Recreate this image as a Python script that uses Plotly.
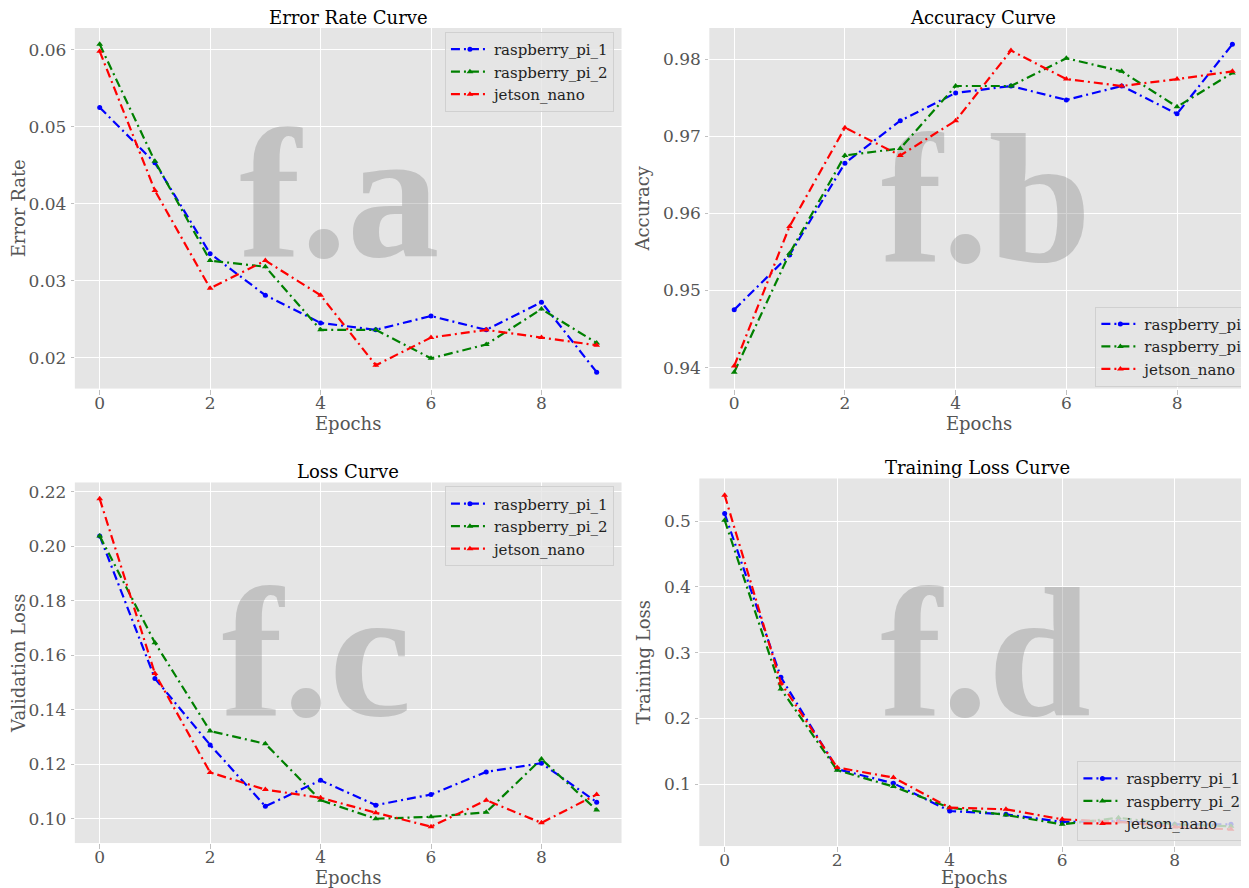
import plotly.graph_objects as go

# ---------------- data ----------------
epochs = [0, 1, 2, 3, 4, 5, 6, 7, 8, 9]

err_rpi1 = [0.0525, 0.0453, 0.0335, 0.0281, 0.0245, 0.0236, 0.0254, 0.0236, 0.0272, 0.0181]
err_rpi2 = [0.0607, 0.0455, 0.0326, 0.0318, 0.0236, 0.0236, 0.0199, 0.0217, 0.0263, 0.0219]
err_jet = [0.0598, 0.0417, 0.0290, 0.0326, 0.0281, 0.0190, 0.0226, 0.0236, 0.0226, 0.0216]

acc_rpi1 = [0.9475, 0.9546, 0.9665, 0.9720, 0.9756, 0.9765, 0.9747, 0.9765, 0.9729, 0.9819]
acc_rpi2 = [0.9394, 0.9548, 0.9675, 0.9684, 0.9765, 0.9765, 0.9801, 0.9784, 0.9738, 0.9782]
acc_jet = [0.9402, 0.9583, 0.9711, 0.9675, 0.9720, 0.9811, 0.9774, 0.9765, 0.9774, 0.9784]

loss_rpi1 = [0.2038, 0.1515, 0.1271, 0.1046, 0.1141, 0.1050, 0.1089, 0.1172, 0.1204, 0.1061]
loss_rpi2 = [0.2038, 0.1646, 0.1322, 0.1275, 0.1068, 0.1000, 0.1007, 0.1024, 0.1219, 0.1032]
loss_jet = [0.2174, 0.1533, 0.1170, 0.1107, 0.1077, 0.1022, 0.0971, 0.1068, 0.0985, 0.1089]

train_rpi1 = [0.5117, 0.2626, 0.1230, 0.1015, 0.0593, 0.0543, 0.0426, 0.0440, 0.0390, 0.0390]
train_rpi2 = [0.5015, 0.2449, 0.1213, 0.0964, 0.0644, 0.0532, 0.0390, 0.0490, 0.0390, 0.0360]
train_jet = [0.5396, 0.2540, 0.1254, 0.1102, 0.0644, 0.0619, 0.0466, 0.0430, 0.0350, 0.0314]

x_ticks = [0, 2, 4, 6, 8]
err_ticks = [0.02, 0.03, 0.04, 0.05, 0.06]
acc_ticks = [0.94, 0.95, 0.96, 0.97, 0.98]
loss_ticks = [0.10, 0.12, 0.14, 0.16, 0.18, 0.20, 0.22]
train_ticks = [0.1, 0.2, 0.3, 0.4, 0.5]

names_a = ["raspberry_pi_1", "raspberry_pi_2", "jetson_nano"]
names_b = ["raspberry_pi", "raspberry_pi", "jetson_nano"]

# ---------------- styling ----------------
WIN_W, WIN_H = 1249, 888
OFF = 8                      # default page margin of the html body
W, H = WIN_W - OFF, WIN_H - OFF
FONT = "DejaVu Serif"
BG = "#E5E5E5"
TICKC = "#555555"
COLORS = ["#0000FF", "#008000", "#FF0000"]
SYMBOLS = ["circle", "triangle-up", "triangle-up"]
MSIZE = [5, 6, 6]
DASH = "9px,4px,2px,4px"


def px_x(p):
    return (p - OFF) / W


def px_y(p):
    return 1 - (p - OFF) / H


def yrange(series):
    lo = min(min(s) for s in series)
    hi = max(max(s) for s in series)
    m = (hi - lo) * 0.05
    return [lo - m, hi + m]


panels = [
    dict(key="", series=[err_rpi1, err_rpi2, err_jet], names=names_a, title="Error Rate Curve",
         ytitle="Error Rate", ticks=err_ticks, fmt=".2f", xd=(72, 620), yd=(27, 388),
         xr=[-0.45, 9.45], wm="f.a", wmf=(0.484, 0.495), legend="legend", xstand=0,
         leg=dict(x=px_x(443), y=px_y(31), xanchor="left", yanchor="top")),
    dict(key="2", series=[acc_rpi1, acc_rpi2, acc_jet], names=names_b, title="Accuracy Curve",
         ytitle="Accuracy", ticks=acc_ticks, fmt=".2f", xd=(708, 1249), yd=(27, 388),
         xr=[-0.45, 9.30], wm="f.b", wmf=(0.505, 0.481), legend="legend2", xstand=0,
         leg=dict(x=px_x(1095), y=px_y(306), xanchor="left", yanchor="top")),
    dict(key="3", series=[loss_rpi1, loss_rpi2, loss_jet], names=names_a, title="Loss Curve",
         ytitle="Validation Loss", ticks=loss_ticks, fmt=".2f", xd=(72, 620), yd=(482, 843),
         xr=[-0.45, 9.45], wm="f.c", wmf=(0.442, 0.484), legend="legend3", xstand=1,
         leg=dict(x=px_x(443), y=px_y(486), xanchor="left", yanchor="top")),
    dict(key="4", series=[train_rpi1, train_rpi2, train_jet], names=names_a, title="Training Loss Curve",
         ytitle="Training Loss", ticks=train_ticks, fmt=".1f", xd=(698, 1249), yd=(478, 846),
         xr=[-0.45, 9.32], wm="f.d", wmf=(0.514, 0.483), legend="legend4", xstand=2,
         leg=dict(x=px_x(1077), y=px_y(761), xanchor="left", yanchor="top")),
]

fig = go.Figure()
layout = dict(
    width=W, height=H, paper_bgcolor="white", plot_bgcolor=BG,
    margin=dict(l=0, r=0, t=0, b=0), font=dict(family=FONT, color=TICKC),
    annotations=[], showlegend=True,
)

for p in panels:
    k = p["key"]
    xa, ya = "x" + k, "y" + k
    yr = yrange(p["series"])
    xr = p["xr"]
    # watermark (drawn first so the curves sit on top)
    wx = xr[0] + p["wmf"][0] * 9.9
    wy = yr[0] + p["wmf"][1] * (yr[1] - yr[0])
    fig.add_trace(go.Scatter(
        x=[wx], y=[wy], mode="text", text=[p["wm"]], textposition="middle center",
        textfont=dict(family="Liberation Serif", size=185, color="rgba(128,128,128,0.35)", weight="bold"),
        hoverinfo="skip", showlegend=False, xaxis=xa, yaxis=ya))
    for s, nm, c, sym, ms in zip(p["series"], p["names"], COLORS, SYMBOLS, MSIZE):
        fig.add_trace(go.Scatter(
            x=epochs, y=s, name=nm, mode="lines+markers",
            line=dict(color=c, width=2.2, dash=DASH),
            marker=dict(symbol=sym, size=ms, color=c),
            xaxis=xa, yaxis=ya, legend=p["legend"]))
    axis_common = dict(
        showgrid=True, gridcolor="white", gridwidth=1, zeroline=False, showline=False,
        ticks="outside", tickcolor="#c0c0c0",
        tickfont=dict(family=FONT, size=17, color=TICKC),
    )
    layout["xaxis" + k] = dict(
        axis_common, domain=[px_x(p["xd"][0]), px_x(p["xd"][1])], range=xr,
        tickvals=x_ticks, anchor=ya, ticklen=5, ticklabelstandoff=-6,
        title=dict(text="Epochs", font=dict(family=FONT, size=18, color=TICKC), standoff=p["xstand"]),
    )
    layout["yaxis" + k] = dict(
        axis_common, domain=[px_y(p["yd"][1]), px_y(p["yd"][0])], range=yr,
        tickvals=p["ticks"], tickformat=p["fmt"], anchor=xa, ticklen=3, ticklabelstandoff=1,
        title=dict(text=p["ytitle"], font=dict(family=FONT, size=18, color=TICKC), standoff=8),
    )
    layout[p["legend"]] = dict(
        p["leg"], bgcolor="rgba(229,229,229,0.8)", bordercolor="#d0d0d0", borderwidth=1,
        font=dict(family=FONT, size=15, color="#222222"), tracegroupgap=0, itemwidth=38,
    )
    # full (uncut) plot width for centring the title
    full_right = p["xd"][0] + (p["xd"][1] - p["xd"][0]) * (9.9 / (xr[1] - xr[0]))
    layout["annotations"].append(dict(
        text=p["title"], x=px_x((p["xd"][0] + full_right) / 2), y=px_y(p["yd"][0]),
        xref="paper", yref="paper", xanchor="center", yanchor="bottom", yshift=-2,
        showarrow=False, font=dict(family=FONT, size=18, color="black")))

fig.update_layout(**layout)
fig.write_html("out.html")
